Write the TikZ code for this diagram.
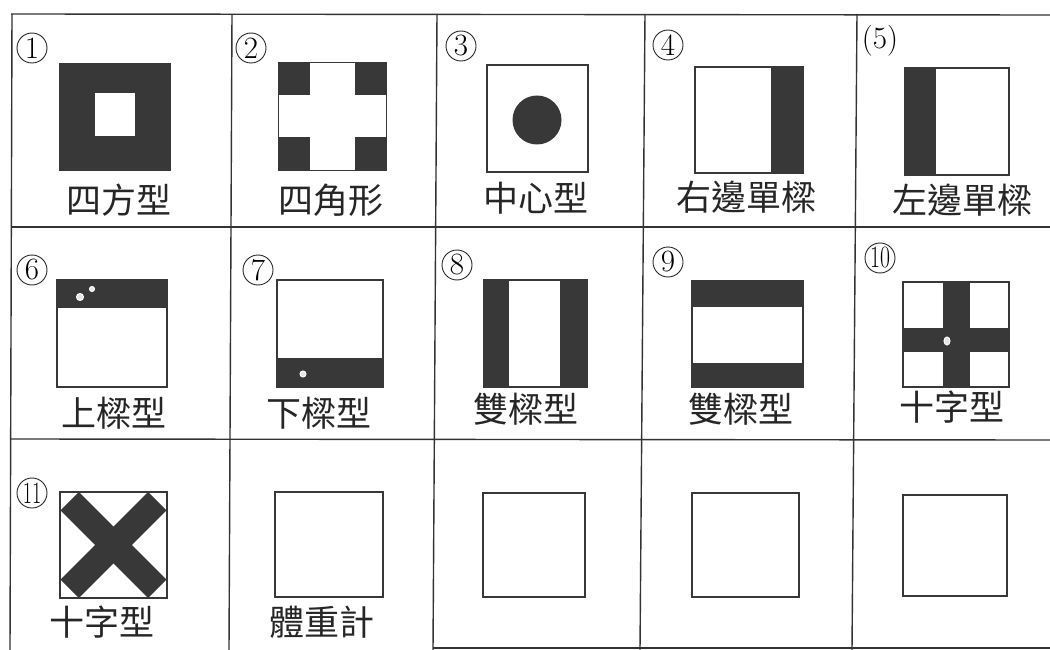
\documentclass[tikz,border=0pt]{standalone}
\usepackage{fontspec}
\newfontfamily\cjk{Noto Sans CJK TC}
\tikzset{
  gridline/.style={line width=1.4pt, draw=black!80},
  box/.style={draw=black!78, line width=2pt},
  thinbox/.style={draw=black!78, line width=1pt},
  dark/.style={fill=black!78},
  num/.style={circle, draw=black!85, line width=0.9pt, minimum size=30pt, inner sep=0pt, font=\fontsize{31}{31}\selectfont},
  pnum/.style={inner sep=0pt, font=\fontsize{31}{31}\selectfont},
  lab/.style={font=\cjk\fontsize{35}{35}\selectfont, inner sep=0pt, text=black!85},
  hole/.style={fill=white!90!black, draw=white, line width=1pt},
}
\begin{document}
\begin{tikzpicture}[x=1pt,y=-1pt]
\useasboundingbox (0,0) rectangle (1050,650);
% ---------- grid ----------
\draw[gridline] (11,14) -- (1050,15);
\draw[gridline] (11,227) -- (1050,227);
\draw[gridline] (10,439) -- (1050,440);
\draw[gridline] (433,648) -- (1050,648);
\draw[gridline] (12,14) -- (10,650);
\draw[gridline] (232,14) -- (229,650);
\draw[gridline] (437,14) -- (433,650);
\draw[gridline] (645,14) -- (640,650);
\draw[gridline] (857,14) -- (852,650);
% ---------- row 1 ----------
% 1
\fill[dark] (59,63) rectangle (171,171);
\fill[white] (95,93) rectangle (135,136);
\node[num] (n1) at (32,48) {1};
\node[lab] (l1) at (119,200) {四方型};
% 2
\fill[dark] (278,63) rectangle (386,171);
\fill[white] (310,63) rectangle (355,171);
\fill[white] (278,95) rectangle (386,137);
\draw[thinbox] (278,63) rectangle (386,171);
\node[num] (n2) at (251,48) {2};
\node[lab] (l2) at (331,200) {四角形};
% 3
\draw[box] (487,65) rectangle (588,172);
\fill[dark] (537,120) circle (24.5);
\node[num] (n3) at (461,46) {3};
\node[lab] (l3) at (536,198) {中心型};
% 4
\fill[dark] (771,67) rectangle (803,173);
\draw[box] (695,67) rectangle (803,173);
\node[num] (n4) at (668,45) {4};
\node[lab] (l4) at (746,197) {右邊單樑};
% 5
\fill[dark] (905,68) rectangle (936,175);
\draw[box] (905,68) rectangle (1009,175);
\node[pnum] (n5) at (880,41) {(5)};
\node[lab] (l5) at (962,200) {左邊單樑};
% ---------- row 2 ----------
% 6
\fill[dark] (57,280) rectangle (167,308);
\draw[box] (57,280) rectangle (167,387);
\draw[hole] (80,297) circle (3.5);
\draw[hole] (92,289) circle (2.5);
\node[num] (n6) at (32,270) {6};
\node[lab] (l6) at (114,413) {上樑型};
% 7
\fill[dark] (277,358) rectangle (383,387);
\draw[box] (277,280) rectangle (383,387);
\draw[hole] (303,374) circle (3);
\node[num] (n7) at (258,270) {7};
\node[lab] (l7) at (319,413) {下樑型};
% 8
\fill[dark] (484,280) rectangle (509,387);
\fill[dark] (560,280) rectangle (587,387);
\draw[box] (484,280) rectangle (587,387);
\node[num] (n8) at (457,265) {8};
\node[lab] (l8) at (526,409) {雙樑型};
% 9
\fill[dark] (692,281) rectangle (803,307);
\fill[dark] (692,363) rectangle (803,387);
\draw[box] (692,281) rectangle (803,387);
\node[num] (n9) at (668,262) {9};
\node[lab] (l9) at (741,409) {雙樑型};
% 10
\fill[dark] (943,282) rectangle (970,387);
\fill[dark] (903,328) rectangle (1009,352);
\draw[box] (903,282) rectangle (1009,387);
\draw[hole] (947,341) ellipse (3 and 4);
\node[num] (n10) at (880,258) {\scalebox{0.7}[1]{10}};
\node[lab] (l10) at (952,407) {十字型};
% ---------- row 3 ----------
% 11
\begin{scope}
  \clip (60,492) rectangle (167,598);
  \fill[dark, rotate around={45:(113.5,545)}] (51.5,532) rectangle (175.5,558);
  \fill[dark, rotate around={-45:(113.5,545)}] (51.5,532) rectangle (175.5,558);
\end{scope}
\draw[box] (60,492) rectangle (167,598);
\node[num] (n11) at (32,493) {\scalebox{0.65}[1]{11}};
\node[lab] (l11) at (102,622) {十字型};
% weighing
\draw[box] (275,492) rectangle (383,597);
\node[lab] (l12) at (322,622) {體重計};
% empty boxes
\draw[box] (483,493) rectangle (585,597);
\draw[box] (692,493) rectangle (799,597);
\draw[box] (903,495) rectangle (1007,596);
\end{tikzpicture}
\end{document}
